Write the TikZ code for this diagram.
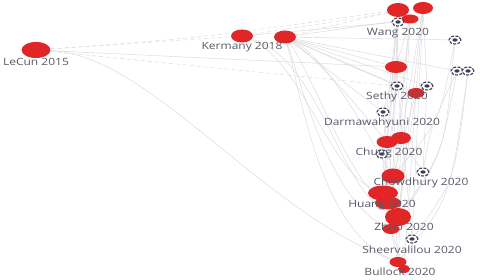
\documentclass[tikz,border=0pt]{standalone}
\usepackage{fontspec}
\setmainfont{Open Sans}
\usetikzlibrary{shapes.geometric,backgrounds}
\definecolor{nodered}{RGB}{224,38,38}
\definecolor{iconc}{RGB}{58,62,85}
\definecolor{labelc}{RGB}{88,90,104}
\definecolor{edgec}{RGB}{218,218,222}
\tikzset{
  paper/.style={x=1pt,y=-1pt},
  rednode/.style={ellipse,fill=nodered,draw=none,inner sep=0pt},
  iconnode/.style={ellipse,minimum width=12pt,minimum height=8pt,inner sep=0pt,
    draw=iconc,line width=1.1pt,dash pattern=on 3pt off 1.3pt,fill=white,
    path picture={\fill[iconc] (path picture bounding box.center) ellipse (2.6pt and 1.7pt);}},
  lbl/.style={inner sep=0pt,text=labelc,font=\fontsize{10}{11}\selectfont},
  edge/.style={draw=edgec,line width=0.45pt},
  edged/.style={edge,dash pattern=on 4pt off 3pt},
}
\newcommand{\lt}[1]{\scalebox{1.2}[1]{#1}}
\begin{document}
\begin{tikzpicture}[paper]
\useasboundingbox (0,0) rectangle (480,280);
% red nodes
\node[rednode,minimum width=29pt,minimum height=16pt] (lecun) at (36,50) {};
\node[rednode,minimum width=22pt,minimum height=13pt] (kera) at (242,36) {};
\node[rednode,minimum width=22pt,minimum height=13pt] (kerb) at (285,37) {};
\node[rednode,minimum width=22pt,minimum height=14pt] (wa) at (398,10) {};
\node[rednode,minimum width=20pt,minimum height=12pt] (wb) at (423,8) {};
\node[rednode,minimum width=17pt,minimum height=9pt] (wc) at (410,19) {};
\node[rednode,minimum width=22pt,minimum height=12pt] (sa) at (396,67) {};
\node[rednode,minimum width=17pt,minimum height=10pt] (sb) at (416,93) {};
\node[rednode,minimum width=21pt,minimum height=12pt] (ca) at (387,142) {};
\node[rednode,minimum width=20pt,minimum height=12pt] (cb) at (401,138) {};
\node[rednode,minimum width=23pt,minimum height=15pt] (cha) at (393,176) {};
\node[rednode,minimum width=30pt,minimum height=15pt] (ha) at (383,193) {};
\node[rednode,minimum width=26pt,minimum height=13pt] (hb) at (388,203) {};
\node[rednode,minimum width=26pt,minimum height=18pt] (hc) at (398,217) {};
\node[rednode,minimum width=17pt,minimum height=10pt] (hd) at (391,229) {};
\node[rednode,minimum width=17pt,minimum height=10pt] (ba) at (398,262) {};
\node[rednode,minimum width=12pt,minimum height=8pt] (bb) at (404,269) {};
% icons
\node[iconnode] (ia) at (398,22) {};
\node[iconnode] (ib) at (455,40) {};
\node[iconnode] (ic) at (457,71) {};
\node[iconnode] (id) at (468,71) {};
\node[iconnode] (ie) at (397,86) {};
\node[iconnode] (if) at (427,86) {};
\node[iconnode] (ig) at (383,112) {};
\node[iconnode] (ih) at (382,154) {};
\node[iconnode] (ii) at (423,172) {};
\node[iconnode] (ij) at (412,239) {};
% labels
\node[lbl] (llecun) at (36,62) {\lt{LeCun 2015}};
\node[lbl] (lker) at (242,47) {\lt{Kermany 2018}};
\node[lbl] (lwang) at (398,33) {\lt{Wang 2020}};
\node[lbl] (lsethy) at (397,97) {\lt{Sethy 2020}};
\node[lbl] (ldarma) at (382,123) {\lt{Darmawahyuni 2020}};
\node[lbl] (lchung) at (389,153) {\lt{Chung 2020}};
\node[lbl] (lchow) at (421,183) {\lt{Chowdhury 2020}};
\node[lbl] (lhuang) at (382,205) {\lt{Huang 2020}};
\node[lbl] (lzhuo) at (404,227) {\lt{Zhuo 2020}};
\node[lbl] (lsheer) at (412,250) {\lt{Sheervalilou 2020}};
\node[lbl] (lbull) at (400,272) {\lt{Bullock 2020}};
% edges
\begin{pgfonlayer}{background}
\fill[white] (0,0) rectangle (480,280);
\draw[edged] (lecun) -- (kera);
\draw[edged] (lecun) .. controls (200,38) .. (wa);
\draw[edged] (lecun) -- (ie);
\draw[edge] (lecun) -- (sa);
\draw[edge] (lecun) .. controls (150,55) and (260,210) .. (ba);
\draw[edged] (kera) -- (wb);
\draw[edge] (kera) -- (ia);
\draw[edge] (kera) .. controls (320,60) and (340,190) .. (hc);
\draw[edge] (kera) .. controls (300,60) and (330,170) .. (ha);
\foreach \t in {wc,ib,sa,ic,ie,sb,ig,if}
  \draw[edge] (kerb) -- (\t);
\draw[edged] (kerb) -- (wa);
\draw[edge] (kerb) .. controls (320,60) and (360,110) .. (ca);
\draw[edge] (kerb) .. controls (330,60) and (370,140) .. (cha);
\draw[edge] (kerb) .. controls (310,70) and (350,180) .. (hb);
\draw[edge] (kerb) .. controls (300,80) and (330,200) .. (hd);
\draw[edge] (kerb) .. controls (300,90) and (320,230) .. (ba);
\foreach \a/\b in {wa/sa,wa/ca,wa/ha,wa/ih,wb/sb,wb/cb,wb/hc,wb/if,wc/ba,wc/cha,wc/ig,
  ia/hd,ia/ie,sa/ca,sa/hb,sa/ij,sb/cha,sb/hc,sb/bb,ie/ha,ig/hc,if/ii,
  ca/ha,cb/hc,cb/ii,cha/ba,ha/ba,hc/ij,hd/bb,ih/hb,wb/ij,wc/hd}
  \draw[edge] (\a) -- (\b);
\draw[edge] (ib) .. controls (445,150) .. (hc);
\draw[edge] (ic) .. controls (440,160) .. (hd);
\draw[edge] (id) .. controls (455,180) .. (ij);
\draw[edge] (id) .. controls (450,200) .. (ba);
\draw[edge] (ib) .. controls (440,120) .. (cha);
\draw[edge] (ic) .. controls (430,130) .. (ii);
\end{pgfonlayer}
\end{tikzpicture}
\end{document}
